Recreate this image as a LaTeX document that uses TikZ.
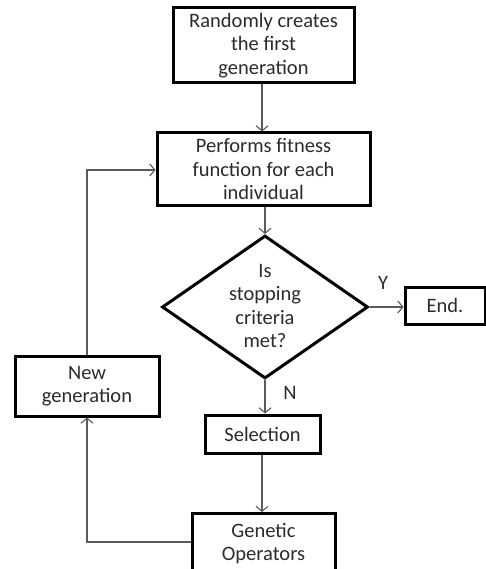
\documentclass[tikz,border=0pt]{standalone}
\usepackage{fontspec}
\setmainfont{Carlito}
\usetikzlibrary{shapes.geometric,arrows.meta}

\definecolor{inkline}{HTML}{5A5A5A}
\definecolor{inktext}{HTML}{2B2B2B}

\tikzset{
  flowbox/.style={draw=black, line width=3pt, fill=white, inner sep=0pt,
    align=center, text=inktext, font=\fontsize{20.5}{23.5}\selectfont},
  decision/.style={draw=black, line width=3pt, fill=white, diamond, inner sep=0pt},
  label txt/.style={align=center, text=inktext, font=\fontsize{20.5}{23.5}\selectfont, inner sep=0pt},
  flow/.style={draw=inkline, line width=1.1pt, -{Straight Barb[length=5pt,width=12pt]}}
}

\begin{document}
\begin{tikzpicture}[x=1pt,y=-1pt]
  \useasboundingbox (0,0) rectangle (486,569);
  \clip (0,0) rectangle (486,569);

  % boxes
  \node[flowbox, minimum width=181pt, minimum height=75pt] (init) at (263.5,45.5)
    {Randomly creates\\the first\\generation};
  \node[flowbox, minimum width=213pt, minimum height=72pt] (fit) at (263.5,169)
    {Performs fitness\\function for each\\individual};
  \node[decision, minimum width=206pt, minimum height=143pt] (stop) at (265,307) {};
  \node[label txt] (stoptxt) at (265,306) {Is\\stopping\\criteria\\met?};
  \node[flowbox, minimum width=80pt, minimum height=37pt] (end) at (445,305.5) {End.};
  \node[flowbox, minimum width=144pt, minimum height=60pt] (newgen) at (87,386)
    {New\\generation};
  \node[flowbox, minimum width=115pt, minimum height=38pt] (sel) at (262.5,434)
    {Selection};
  \node[flowbox, minimum width=143pt, minimum height=60pt, anchor=north] (gen) at (263.5,512)
    {Genetic\\Operators};

  % branch labels
  \node[label txt] (ylab) at (383,283) {Y};
  \node[label txt] (nlab) at (290,393) {N};

  % connectors
  \coordinate (loopbot) at (87,542);
  \coordinate (looptop) at (87,170);
  \draw[flow] (init.south -| 262,0) -- (fit.north -| 262,0);
  \draw[flow] (fit.south -| stop.north) -- (stop.north);
  \draw[flow] (stop.east) -- (end.west |- stop.east);
  \draw[flow] (stop.south) -- (sel.north -| stop.south);
  \draw[flow] (sel.south -| 262,0) -- (gen.north -| 262,0);
  \draw[flow] (gen.west |- loopbot) -- (loopbot) -- (newgen.south);
  \draw[flow] (newgen.north) -- (looptop) -- (fit.west |- looptop);
\end{tikzpicture}
\end{document}
